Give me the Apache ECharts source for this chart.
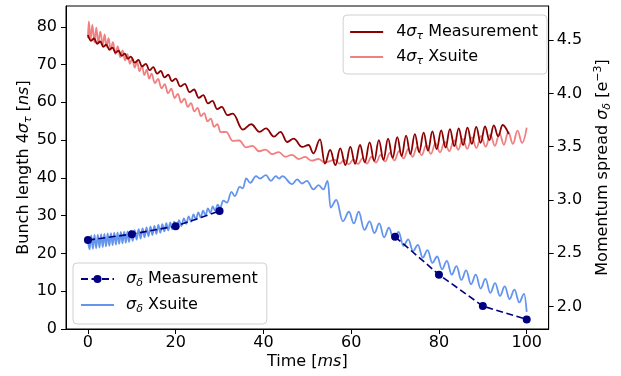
<!DOCTYPE html>
<html>
<head>
<meta charset="utf-8">
<script src="https://cdn.jsdelivr.net/npm/echarts@6/dist/echarts.min.js"></script>
<style>html,body{margin:0;padding:0;background:#fff}#c{width:621px;height:376px}</style>
</head>
<body>
<div id="c"></div>
<script>
// ---- data ----
const xTicks = [0, 20, 40, 60, 80, 100];
const leftTicks = [0, 10, 20, 30, 40, 50, 60, 70, 80];
const rightTicks = [2.0, 2.5, 3.0, 3.5, 4.0, 4.5];

// 4 sigma_tau measurement [ms, ns]
const tauMeas = [[0.0,77.8],[0.7,76.3],[1.4,76.9],[2.1,75.5],[2.8,76.1],[3.5,74.7],[4.2,75.3],[4.9,73.9],[5.6,74.5],[6.3,73.1],[7.0,73.7],[7.7,72.3],[8.4,72.9],[9.1,71.5],[9.8,72.1],[10.65,70.5],[11.5,71.2],[12.35,69.5],[13.2,70.2],[14.05,68.5],[14.9,69.3],[15.75,67.6],[16.6,68.3],[17.45,66.6],[18.3,67.3],[19.15,65.6],[20.0,66.3],[21.05,64.2],[22.1,64.9],[23.15,62.7],[24.2,63.4],[25.25,61.2],[26.3,61.9],[27.35,59.7],[28.4,60.4],[29.45,58.2],[30.5,58.8],[31.8,56.6],[33.0,57.0],[35.3,52.8],[37.2,54.2],[39.1,52.2],[40.6,53.1],[42.4,50.9],[43.9,52.2],[45.4,49.5],[46.9,50.4],[48.8,48.2],[50.3,48.7],[51.4,46.5],[52.9,50.2],[54.0,43.8],[55.2,47.4],[56.4,43.4],[57.5,47.8],[58.7,43.4],[59.8,48.2],[60.9,43.7],[62.0,48.7],[63.1,44.1],[64.2,49.4],[65.25,44.5],[66.3,50.0],[67.35,44.8],[68.4,50.4],[69.45,45.3],[70.5,50.8],[71.5,45.8],[72.5,51.2],[73.5,46.3],[74.5,51.6],[75.5,46.8],[76.5,52.0],[77.5,47.2],[78.5,52.3],[79.5,47.6],[80.5,52.6],[81.5,48.0],[82.5,52.9],[83.5,48.4],[84.5,53.1],[85.5,48.7],[86.5,53.3],[87.5,49.0],[88.5,53.5],[89.5,49.3],[90.5,53.6],[91.5,50.0],[92.5,53.9],[93.5,51.0],[94.5,54.0],[95.9,51.6]];

// 4 sigma_tau Xsuite [ms, ns]
const tauXsuite = [[0.0,77.0],[0.2,81.4],[0.6,76.5],[1.0,80.5],[1.5,75.9],[1.9,79.8],[2.35,75.6],[2.8,78.7],[3.4,75.2],[3.8,78.0],[4.25,74.7],[4.7,77.0],[5.15,74.0],[5.7,75.9],[6.25,72.85],[6.8,74.8],[7.35,71.95],[7.9,73.75],[8.45,71.1],[9.0,72.75],[9.55,70.2],[10.1,71.7],[10.65,69.2],[11.2,70.7],[11.75,68.2],[12.3,69.7],[12.85,67.2],[13.4,68.65],[13.95,66.25],[14.5,67.6],[15.25,65.1],[16.0,66.2],[16.75,63.7],[17.5,64.8],[18.25,62.4],[19.0,63.6],[19.75,61.15],[20.5,62.25],[21.25,59.95],[22.0,61.0],[22.75,58.8],[23.5,59.8],[24.25,57.6],[25.0,58.55],[25.75,56.35],[26.5,57.15],[27.25,54.95],[28.0,55.7],[28.75,53.5],[29.5,54.2],[30.25,52.1],[31.5,52.2],[33.0,49.8],[34.5,49.9],[36.0,48.1],[37.5,48.45],[39.0,47.05],[40.5,47.5],[42.0,46.3],[43.5,46.8],[45.0,45.6],[46.5,46.1],[48.0,45.0],[49.5,45.55],[51.0,44.55],[52.5,45.0],[54.0,44.1],[56.3,44.75],[57.35,43.75],[58.4,44.75],[59.45,43.6],[60.5,44.9],[61.55,43.65],[62.6,45.25],[63.6,43.8],[64.6,45.6],[65.65,44.05],[66.7,46.1],[67.75,44.35],[68.8,46.6],[69.85,44.65],[70.9,47.1],[71.95,45.15],[73.0,47.65],[74.0,45.6],[75.0,48.2],[76.05,46.0],[77.1,48.65],[78.15,46.35],[79.2,49.15],[80.25,46.75],[81.3,49.55],[82.35,47.1],[83.4,49.95],[84.4,47.45],[85.4,50.35],[86.45,47.7],[87.5,50.7],[88.55,47.95],[89.6,51.1],[90.65,48.25],[91.7,51.45],[92.75,48.5],[93.8,51.8],[94.8,48.75],[95.8,52.15],[96.85,49.0],[97.9,52.5],[98.95,49.25],[100.0,53.3]];

// sigma_delta Xsuite [ms, 1e-3]
const deltaXsuite = [[0.0,2.62],[0.375,2.537],[0.75,2.669],[1.125,2.543],[1.5,2.672],[1.875,2.548],[2.25,2.676],[2.625,2.554],[3.0,2.679],[3.375,2.559],[3.75,2.683],[4.125,2.565],[4.5,2.686],[4.875,2.570],[5.25,2.690],[5.625,2.576],[6.0,2.693],[6.375,2.582],[6.75,2.697],[7.125,2.588],[7.5,2.700],[7.875,2.593],[8.25,2.704],[8.625,2.599],[9.0,2.706],[9.375,2.605],[9.75,2.710],[10.2,2.616],[10.65,2.718],[11.1,2.628],[11.55,2.726],[12.0,2.638],[12.45,2.734],[12.9,2.650],[13.35,2.742],[13.8,2.660],[14.25,2.750],[14.7,2.671],[15.15,2.757],[15.6,2.682],[16.05,2.766],[16.5,2.693],[16.95,2.773],[17.4,2.705],[17.85,2.782],[18.3,2.715],[18.75,2.789],[19.2,2.726],[19.65,2.797],[20.2,2.736],[20.75,2.810],[21.3,2.756],[21.85,2.828],[22.4,2.776],[22.95,2.847],[23.5,2.796],[24.05,2.865],[24.6,2.817],[25.15,2.883],[25.7,2.837],[26.25,2.901],[26.8,2.857],[27.35,2.921],[27.9,2.877],[28.45,2.939],[29.0,2.898],[29.55,2.957],[30.1,2.925],[30.85,2.995],[31.7,2.975],[32.7,3.077],[33.45,3.036],[34.6,3.124],[35.3,3.109],[36.07,3.202],[36.97,3.161],[38.3,3.224],[39.2,3.202],[40.56,3.233],[41.7,3.18],[42.8,3.224],[43.57,3.202],[44.3,3.224],[46.55,3.149],[47.68,3.193],[48.8,3.155],[49.9,3.18],[51.4,3.099],[52.55,3.14],[53.67,3.099],[54.64,3.18],[55.3,2.93],[56.6,3.00],[58.1,2.80],[59.5,2.89],[60.6,2.78],[61.7,2.89],[63.0,2.72],[64.2,2.80],[65.3,2.69],[66.4,2.78],[67.5,2.65],[68.6,2.74],[69.7,2.63],[70.8,2.70],[71.9,2.57],[73.0,2.63],[74.1,2.52],[75.2,2.58],[76.3,2.46],[77.4,2.53],[78.5,2.41],[79.6,2.47],[80.7,2.35],[81.8,2.43],[82.9,2.30],[84.0,2.38],[85.1,2.25],[86.2,2.34],[87.3,2.21],[88.4,2.30],[89.5,2.17],[90.6,2.26],[91.7,2.13],[92.8,2.22],[93.9,2.10],[95.0,2.19],[96.1,2.07],[97.2,2.16],[98.3,2.04],[99.4,2.12],[100.0,1.95]];

// sigma_delta measurement
const deltaMeasT = [0, 10, 20, 30, 70, 80, 90, 100];
const deltaMeasV = [2.624, 2.68, 2.755, 2.896, 2.655, 2.30, 2.005, 1.88];

// ---- chart ----
const FONT = 'DejaVu Sans';
const rich = {
  n: {fontFamily: FONT, fontSize: 16, color: '#000', lineHeight: 20},
  i: {fontFamily: FONT, fontSize: 16, color: '#000', fontStyle: 'italic', lineHeight: 20},
  s: {fontFamily: FONT, fontSize: 11, color: '#000', fontStyle: 'italic', lineHeight: 11, verticalAlign: 'bottom'},
  p: {fontFamily: FONT, fontSize: 11, color: '#000', lineHeight: 11, verticalAlign: 'top'}
};
const labels = {
  m4: '{n|4}{i|σ}{s|τ}{n| Measurement}',
  x4: '{n|4}{i|σ}{s|τ}{n| Xsuite}',
  md: '{i|σ}{s|δ}{n| Measurement}',
  xd: '{i|σ}{s|δ}{n| Xsuite}'
};

const measData = [];
deltaMeasT.forEach((t, k) => {
  if (k > 0 && t - deltaMeasT[k - 1] > 15) measData.push([ (t + deltaMeasT[k-1]) / 2, '-' ]);
  measData.push([t, deltaMeasV[k]]);
});

const axisLine = {onZero: false, lineStyle: {color: '#000', width: 1}};
const tickStyle = {length: 5, lineStyle: {color: '#000', width: 1}};
const labelStyle = {fontFamily: FONT, fontSize: 16, color: '#000'};
const hidden = {opacity: 0, color: 'rgba(0,0,0,0)', borderWidth: 0};

const chart = echarts.init(document.getElementById('c'), null, {renderer: 'canvas'});
chart.setOption({
  animation: false,
  backgroundColor: '#fff',
  grid: {left: 66, right: 65, top: 6, bottom: 47, show: true, borderColor: '#000', borderWidth: 1, backgroundColor: 'transparent'},
  xAxis: {
    type: 'value', min: -5, max: 105,
    axisLine: axisLine,
    axisTick: Object.assign({customValues: xTicks}, tickStyle),
    axisLabel: Object.assign({customValues: xTicks, margin: 6}, labelStyle),
    splitLine: {show: false},
    name: '{n|Time [}{i|ms}{n|]}', nameLocation: 'middle', nameGap: 23, nameMoveOverlap: false,
    nameTextStyle: {rich: rich}
  },
  yAxis: [{
    type: 'value', min: 0, max: 85.5, position: 'left',
    axisLine: axisLine,
    axisTick: Object.assign({customValues: leftTicks}, tickStyle),
    axisLabel: Object.assign({customValues: leftTicks, margin: 9}, labelStyle),
    splitLine: {show: false},
    name: '{n|Bunch length 4}{i|σ}{s|τ}{n| [}{i|ns}{n|]}', nameLocation: 'middle', nameGap: 32, nameRotate: 90, nameMoveOverlap: false,
    nameTextStyle: {rich: rich}
  }, {
    type: 'value', min: 1.79, max: 4.82, position: 'right',
    axisLine: axisLine,
    axisTick: Object.assign({customValues: rightTicks}, tickStyle),
    axisLabel: Object.assign({customValues: rightTicks, margin: 8, formatter: v => v.toFixed(1)}, labelStyle),
    splitLine: {show: false},
    name: '{n|Momentum spread }{i|σ}{s|δ}{n| [e}{p|−3}{n|]}', nameLocation: 'middle', nameGap: 35, nameRotate: 90,
    nameTextStyle: {rich: rich}
  }],
  legend: [{
    data: [{name: 'm4', itemStyle: hidden}, {name: 'x4', itemStyle: hidden}],
    orient: 'vertical', right: 74, top: 15,
    itemWidth: 33, itemHeight: 10, itemGap: 7,
    padding: [9, 9, 7, 6],
    backgroundColor: 'rgba(255,255,255,0.8)', borderColor: '#d0d0d0', borderWidth: 1, borderRadius: 4,
    formatter: n => labels[n],
    textStyle: {rich: rich, padding: [0, 0, 0, 8]}
  }, {
    data: [{name: 'md'}, {name: 'xd', itemStyle: hidden}],
    orient: 'vertical', left: 73, top: 263,
    itemWidth: 33, itemHeight: 10, itemGap: 8,
    padding: [8, 9, 9, 7],
    backgroundColor: 'rgba(255,255,255,0.8)', borderColor: '#d0d0d0', borderWidth: 1, borderRadius: 4,
    formatter: n => labels[n],
    textStyle: {rich: rich, padding: [0, 0, 0, 7]}
  }],
  series: [{
    name: 'x4', type: 'line', yAxisIndex: 0, data: tauXsuite,
    symbol: 'none', smooth: 0.4, smoothMonotone: 'x',
    lineStyle: {color: '#F08080', width: 1.8}, itemStyle: {color: '#F08080'}, z: 2
  }, {
    name: 'm4', type: 'line', yAxisIndex: 0, data: tauMeas,
    symbol: 'none', smooth: 0.4, smoothMonotone: 'x',
    lineStyle: {color: '#8B0000', width: 1.8}, itemStyle: {color: '#8B0000'}, z: 3
  }, {
    name: 'xd', type: 'line', yAxisIndex: 1, data: deltaXsuite,
    symbol: 'none', smooth: 0.4, smoothMonotone: 'x',
    lineStyle: {color: '#6495ED', width: 1.8}, itemStyle: {color: '#6495ED'}, z: 3
  }, {
    name: 'md', type: 'line', yAxisIndex: 1, data: measData, connectNulls: false,
    symbol: 'circle', symbolSize: 8, showSymbol: true,
    lineStyle: {color: '#000080', width: 1.6, type: [7, 3.5]}, itemStyle: {color: '#000080'}, z: 4
  }]
});
</script>
</body>
</html>
